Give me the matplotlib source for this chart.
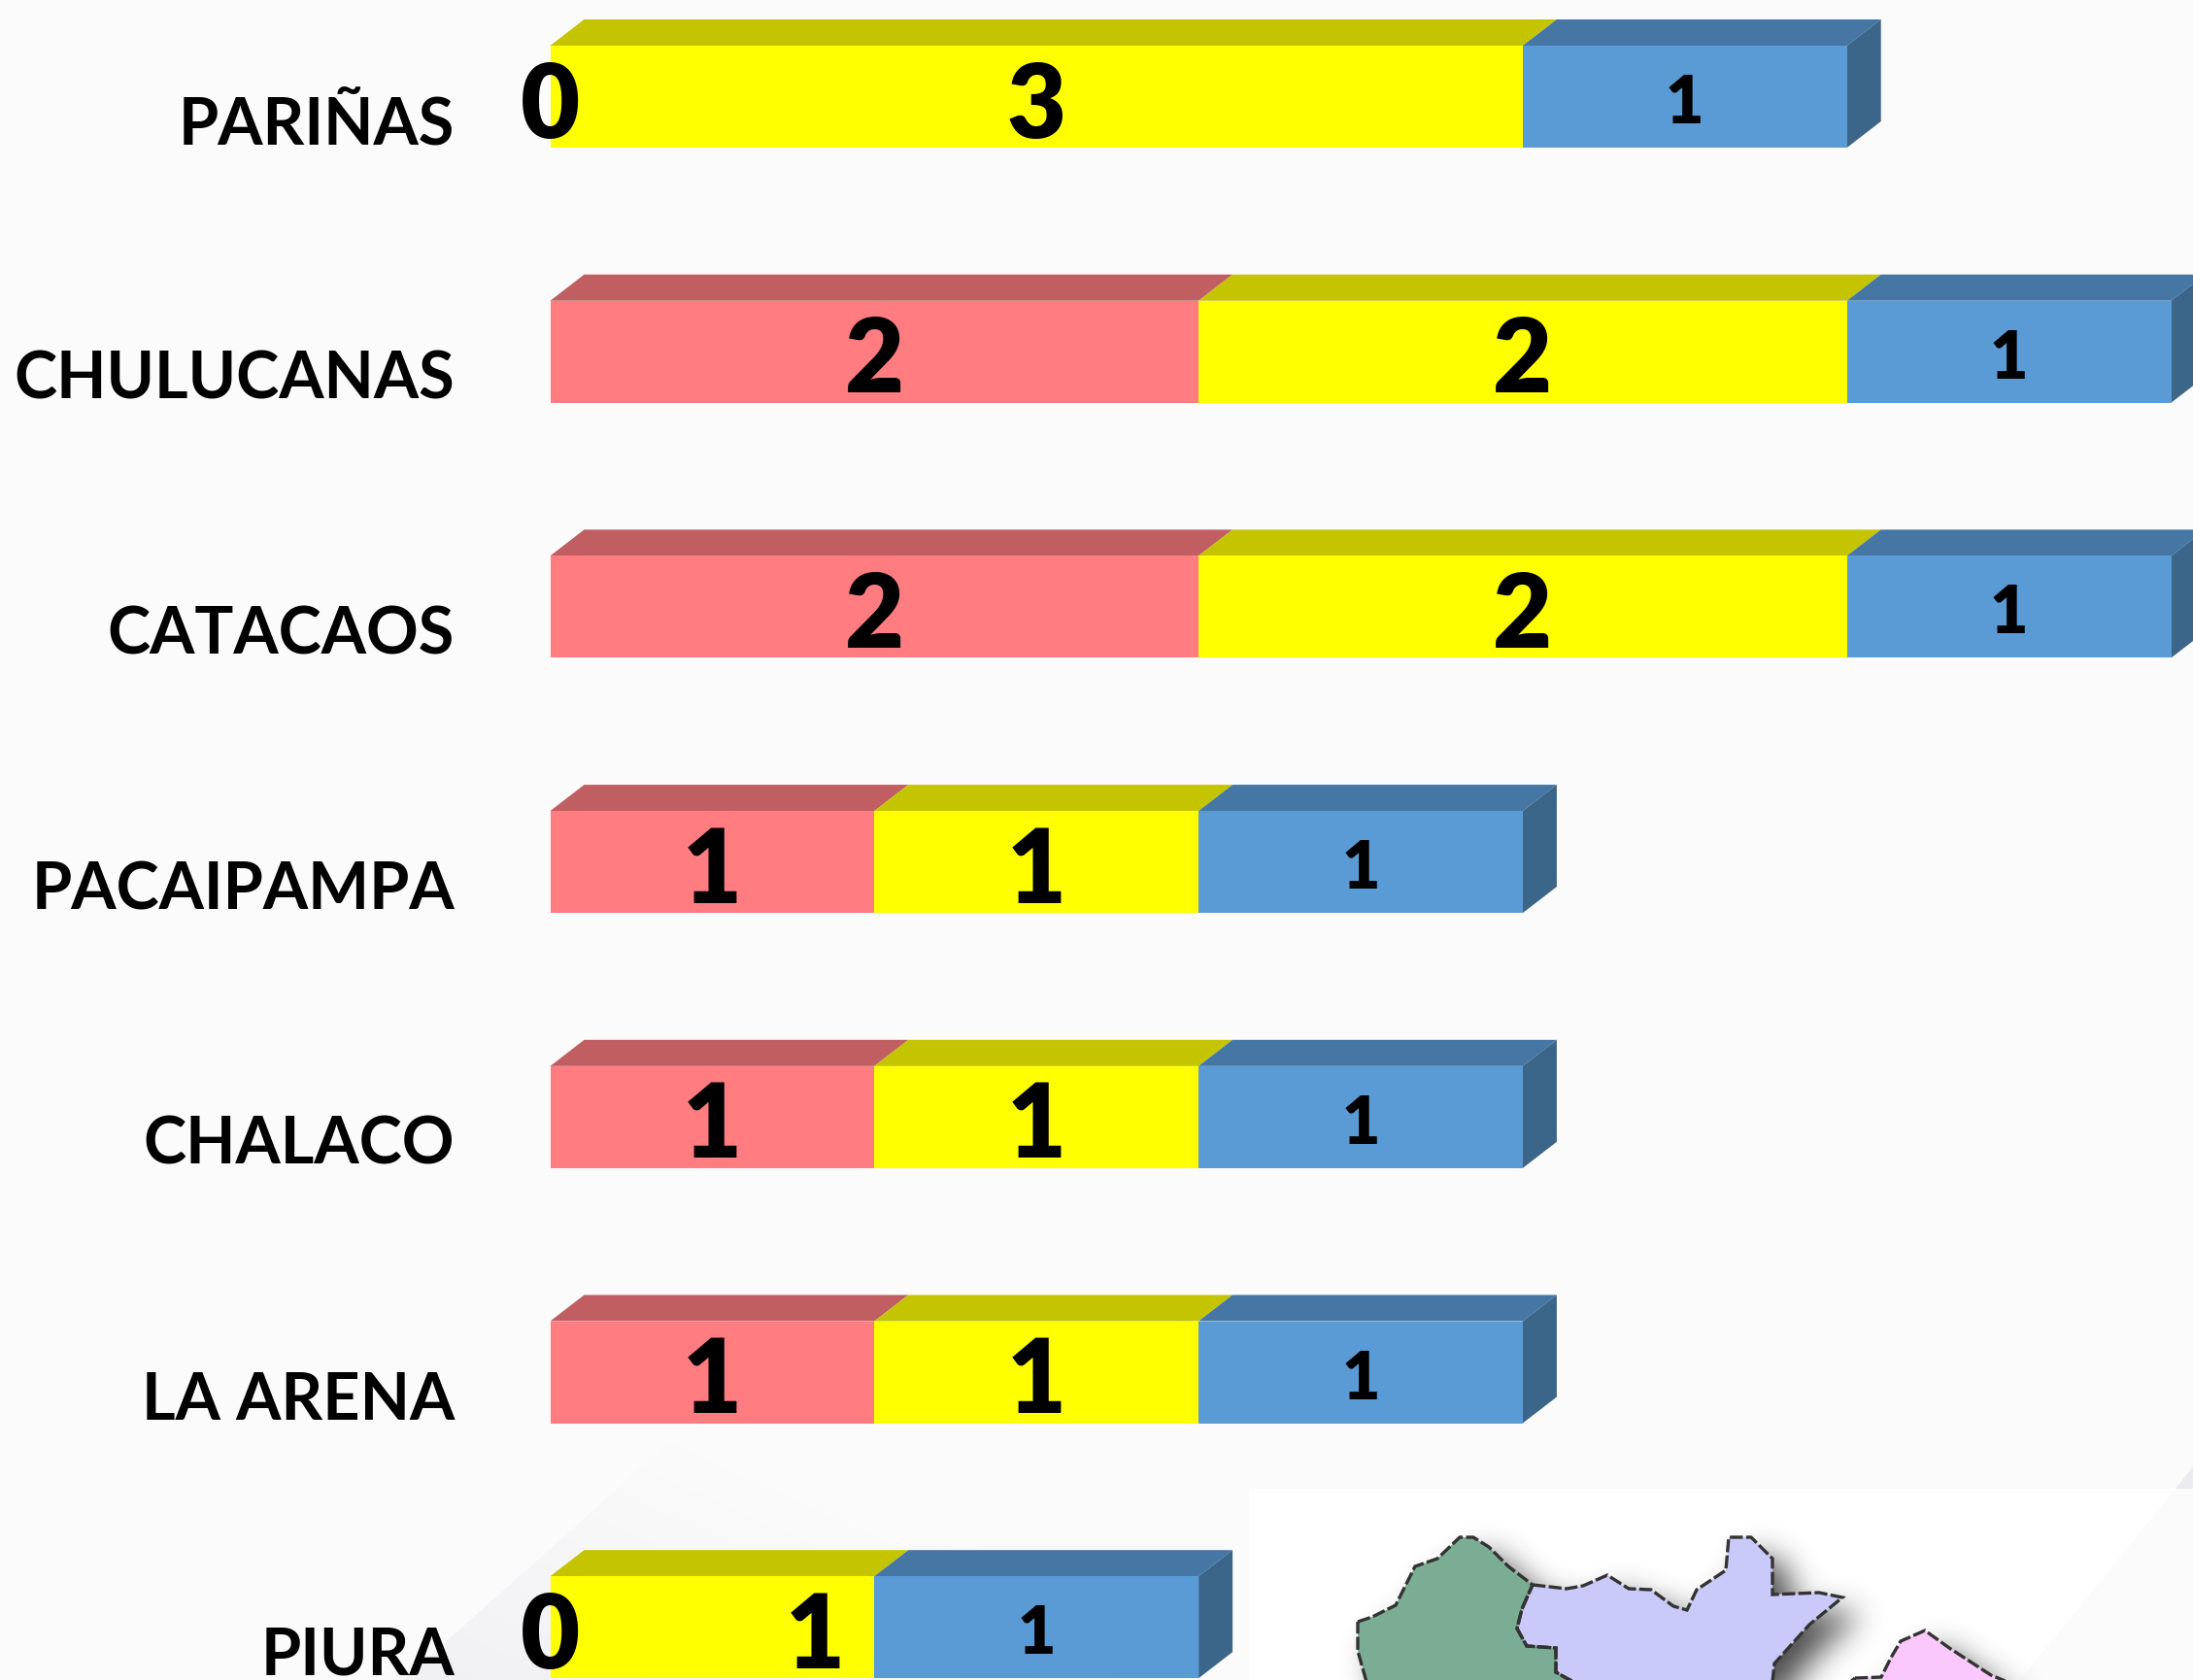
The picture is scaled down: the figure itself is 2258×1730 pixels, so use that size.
import numpy as np
import matplotlib
matplotlib.use("Agg")
import matplotlib.pyplot as plt
from matplotlib.colors import LinearSegmentedColormap
from matplotlib.patches import Polygon
from matplotlib.path import Path

W, H = 2258, 1730

# chart data, top to bottom
categories = ["PARIÑAS", "CHULUCANAS", "CATACAOS", "PACAIPAMPA", "CHALACO", "LA ARENA", "PIURA"]
red_values = [0, 2, 2, 1, 1, 1, 0]
yellow_values = [3, 2, 2, 1, 1, 1, 1]
blue_values = [1, 1, 1, 1, 1, 1, 1]

# map pieces in the lower right corner, in picture pixels
map_green = [(1398, 1670), (1413, 1665), (1437, 1653), (1450, 1627), (1457, 1613), (1480, 1605),
             (1503, 1583), (1517, 1583), (1533, 1593), (1553, 1613), (1578, 1632), (1567, 1657),
             (1562, 1677), (1572, 1695), (1602, 1697), (1602, 1722), (1620, 1732), (1407, 1732),
             (1398, 1700)]
map_lilac = [(1578, 1632), (1613, 1636), (1630, 1633), (1655, 1622), (1677, 1636), (1700, 1637),
             (1723, 1654), (1737, 1658), (1747, 1637), (1777, 1617), (1780, 1583), (1803, 1583),
             (1825, 1605), (1825, 1642), (1873, 1640), (1897, 1645), (1863, 1673), (1827, 1713),
             (1825, 1732), (1620, 1732), (1602, 1722), (1602, 1697), (1572, 1695), (1562, 1677),
             (1567, 1657)]
map_pink = [(1910, 1728), (1937, 1727), (1947, 1707), (1957, 1690), (1982, 1679), (2007, 1697),
            (2050, 1725), (2067, 1732), (1905, 1732)]

# bar geometry in picture pixels
x_zero = 566.5
unit_px = 333.8
row_px = 262.7
row0_px = 99.5
bar_px = 105
depth_x_px = 35
depth_y_px = 27

red_c = ("#FF7C80", "#C05E62")
yellow_c = ("#FFFF00", "#C4C400")
blue_c = ("#5B9BD5", "#4676A3")
blue_side = "#3B6589"

fig = plt.figure(figsize=(W / 100, H / 100), dpi=100, facecolor="#FBFBFB")

# background layer, pixel coordinates
bg = fig.add_axes([0, 0, 1, 1], zorder=0)
bg.axis("off")

# faint grey wedge behind the last rows, fades to the upper right
gx, gy = np.meshgrid(np.linspace(0, 1, 200), np.linspace(0, 1, 200))
wedge = Polygon([(415, 1730), (710, 1467), (1000, 1400), (1146, 1493), (1008, 1590), (1286, 1730)],
                closed=True, transform=bg.transData, fc="none", ec="none")
bg.add_patch(wedge)
im = bg.imshow(np.clip(gx * 0.9 + (1 - gy) * 0.9, 0, 1), extent=(415, 1150, 1730, 1400), origin="upper",
               cmap=LinearSegmentedColormap.from_list("w", ["#F1F1F4", "#FBFBFB"]),
               aspect="auto", zorder=1)
im.set_clip_path(wedge)

# white map panel and the corner triangle
bg.add_patch(Polygon([(1286, 1533), (2240, 1533), (2080, 1730), (1286, 1730)], fc="white", ec="none", zorder=2))
bg.add_patch(Polygon([(2240, 1533), (2258, 1510), (2258, 1533)], fc="#ECECF0", ec="none", zorder=2))

# soft shadow of the map, blurred mask of the pieces
sx0, sx1, sy0, sy1 = 1340, 2140, 1530, 1800
px, py = np.meshgrid(np.arange(sx0, sx1), np.arange(sy0, sy1))
grid = np.column_stack([px.ravel(), py.ravel()])
mask = np.zeros(px.shape)
for pts in [map_green, map_lilac, map_pink]:
    off = [(x + 18, y + 18) for x, y in pts]
    mask = np.maximum(mask, Path(off).contains_points(grid).reshape(px.shape).astype(float))
k = np.exp(-0.5 * (np.arange(-48, 49) / 16.0) ** 2)
k /= k.sum()
mask = np.apply_along_axis(lambda v: np.convolve(v, k, mode="same"), 0, mask)
mask = np.apply_along_axis(lambda v: np.convolve(v, k, mode="same"), 1, mask)
rgba = np.zeros(px.shape + (4,))
rgba[..., 3] = mask * 0.7
bg.imshow(rgba, extent=(sx0, sx1, sy1, sy0), origin="upper", aspect="auto", zorder=3)

for pts, col in [(map_green, "#7BAD94"), (map_lilac, "#C9C9FA"), (map_pink, "#FBC8FB")]:
    bg.add_patch(Polygon(pts, fc=col, ec="none", zorder=4))
    bg.add_patch(Polygon(pts, fc="none", ec="#333333", lw=2.4, ls=(0, (4, 1)), zorder=5))
bg.set_xlim(0, W)
bg.set_ylim(H, 0)

# chart layer, one unit on x is one value, one unit on y is one row
ax = fig.add_axes([0, 0, 1, 1], zorder=1)
ax.patch.set_alpha(0)
ax.set_xlim(-x_zero / unit_px, (W - x_zero) / unit_px)
ax.set_ylim((H - row0_px) / row_px, -row0_px / row_px)
ax.axis("off")

y = np.arange(len(categories))
red = np.array(red_values)
yellow = np.array(yellow_values)
blue = np.array(blue_values)
bar_h = bar_px / row_px
dx = depth_x_px / unit_px
dy = depth_y_px / row_px


def draw_series(left, vals, cols):
    ax.barh(y, vals, left=left, height=bar_h, color=cols[0], linewidth=0, zorder=3)
    for yi, l, v in zip(y, left, vals):
        if v == 0:
            continue
        top = yi - bar_h / 2
        ax.add_patch(Polygon([(l, top), (l + v, top), (l + v + dx, top - dy), (l + dx, top - dy)],
                             fc=cols[1], ec="none", zorder=2))


draw_series(np.zeros(len(y)), red, red_c)
draw_series(red, yellow, yellow_c)
draw_series(red + yellow, blue, blue_c)

totals = red + yellow + blue
for yi, t in zip(y, totals):
    top = yi - bar_h / 2
    bot = yi + bar_h / 2
    ax.add_patch(Polygon([(t, top), (t + dx, top - dy), (t + dx, bot - dy), (t, bot)],
                         fc=blue_side, ec="none", zorder=2))

font = ["Lato", "DejaVu Sans"]
label_off = 48.5 / row_px
big_off = 42 / row_px
small_off = 27.5 / row_px
label_x = (468 - x_zero) / unit_px
piura_yellow_x = 0.817

for yi, name in zip(y, categories):
    ax.text(label_x, yi + label_off, name, ha="right", va="baseline", fontsize=48,
            fontweight="bold", family=font, color="black", zorder=5)

for yi, r, ye, b in zip(y, red, yellow, blue):
    ax.text(r / 2, yi + big_off, str(r), ha="center", va="baseline", fontsize=76,
            fontweight="heavy", family=font, color="black", zorder=5)
    yx = r + ye / 2
    if categories[yi] == "PIURA":
        yx = piura_yellow_x
    ax.text(yx, yi + big_off, str(ye), ha="center", va="baseline", fontsize=76,
            fontweight="heavy", family=font, color="black", zorder=5)
    ax.text(r + ye + b / 2, yi + small_off, str(b), ha="center", va="baseline", fontsize=49,
            fontweight="heavy", family=font, color="black", zorder=5)

fig.savefig("out.png", dpi=100, facecolor=fig.get_facecolor())
